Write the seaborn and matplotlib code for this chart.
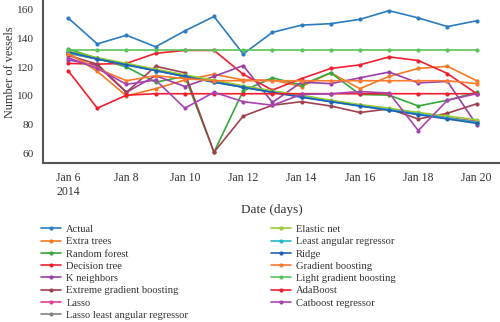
import numpy as np
import pandas as pd
import matplotlib
matplotlib.use("Agg")
import matplotlib.pyplot as plt
import seaborn as sns

dates = pd.date_range("2014-01-06", "2014-01-20", freq="D")

actual = [154, 136, 142, 134, 145, 155, 129, 144, 149, 150, 153, 159, 154, 148, 152]
extra_trees = [130, 117, 100, 105, 111, 115, 111, 111, 106.5, 116, 105, 113.5, 119, 120.5, 110.5]
random_forest = [132.5, 126, 120, 109.5, 113.5, 61, 103.5, 112.5, 107.5, 116, 101, 100.5, 93, 97, 102.5]
decision_tree = [122.5, 122, 122.5, 129.5, 131.5, 131.5, 115, 104, 112, 119, 121.5, 127, 124.5, 115.5, 101.5]
k_neighbors = [125, 121, 102.5, 114, 106.5, 113.5, 121, 95.5, 109.5, 108.5, 112.5, 116.5, 109, 110, 80]
extreme_gb = [128, 122, 102.5, 120.5, 116, 61, 86, 93.5, 96, 93, 88.5, 91, 84, 88, 94.5]
lasso = [130, 126, 122, 118, 114, 110, 106.5, 103, 100, 96.5, 93.5, 91, 88, 85, 82.5]
lasso_lar = [129.5, 125.5, 121.5, 117.5, 113.5, 110, 106, 102.5, 99.5, 96.5, 93.5, 90.5, 87.5, 84.5, 82]
elastic_net = [131, 126.5, 122.5, 118.5, 114.5, 111, 107, 103.5, 100.5, 97, 94, 91.5, 88.5, 86, 83.5]
lar = [130, 125.5, 121.5, 117.5, 113.5, 109.5, 106, 102.5, 99.5, 96, 93, 90.5, 87.5, 84.5, 81.5]
ridge = [130.5, 125.5, 121.5, 117.5, 113.5, 109.5, 106, 102.5, 99, 96, 93, 90, 87, 84, 81]
gradient_boosting = [129, 119, 110.5, 114, 112, 110.5, 110.5, 110.5, 110.5, 110.5, 110.5, 110.5, 110.5, 110.5, 108.5]
light_gb = [131.5, 131.5, 131.5, 131.5, 131.5, 131.5, 131.5, 131.5, 131.5, 131.5, 131.5, 131.5, 131.5, 131.5, 131.5]
adaboost = [117.5, 91.5, 100.5, 101.5, 101.5, 101.5, 101.5, 101.5, 101.5, 101.5, 101.5, 101.5, 101.5, 101.5, 101.5]
catboost = [126.5, 119, 108, 111, 91.5, 102.5, 96, 93.5, 101, 101.5, 103, 102, 76, 97, 101.5]

models = ["Actual", "Extra trees", "Random forest", "Decision tree", "K neighbors",
          "Extreme gradient boosting", "Lasso", "Lasso least angular regressor",
          "Elastic net", "Least angular regressor", "Ridge", "Gradient boosting",
          "Light gradient boosting", "AdaBoost", "Catboost regressor"]
series = [actual, extra_trees, random_forest, decision_tree, k_neighbors, extreme_gb,
          lasso, lasso_lar, elastic_net, lar, ridge, gradient_boosting, light_gb,
          adaboost, catboost]
colors = ["#2a7bc0", "#f57a22", "#34a83a", "#ee2030", "#9a3fa8", "#a0404e",
          "#e0409e", "#848484", "#98cc34", "#22b8c8", "#2060b4", "#ff7a30",
          "#5cc25c", "#f21c30", "#a844b0"]

xtick_labels = ["Jan 6\n2014", "Jan 8", "Jan 10", "Jan 12", "Jan 14", "Jan 16", "Jan 18", "Jan 20"]
ytick_values = [60, 80, 100, 120, 140, 160]

frames = [pd.DataFrame({"Date": dates, "value": s, "model": m}) for m, s in zip(models, series)]
df = pd.concat(frames, ignore_index=True)

sns.set_style("white")
plt.rcParams["font.family"] = ["Liberation Serif", "DejaVu Serif"]

fig = plt.figure(figsize=(5.0, 3.22), dpi=100)
ax = fig.add_axes([0.086, 0.495, 0.914, 0.505])

sns.lineplot(data=df, x="Date", y="value", hue="model", hue_order=models,
             palette=dict(zip(models, colors)), marker="o", markersize=3,
             markeredgewidth=0, linewidth=1.2, ax=ax, legend=True)

handles, labels = ax.get_legend_handles_labels()
ax.get_legend().remove()

ax.set_ylim(53.8, 166.4)
ax.set_xlim(dates[0] - pd.Timedelta(days=0.86), dates[-1] + pd.Timedelta(days=0.8))
ax.set_yticks(ytick_values)
ax.set_xticks(dates[::2])
ax.set_xticklabels(xtick_labels)

for sp in ["top", "right"]:
    ax.spines[sp].set_visible(False)
for sp in ["left", "bottom"]:
    ax.spines[sp].set_color("#555555")
    ax.spines[sp].set_linewidth(1.5)
ax.tick_params(axis="both", direction="out", length=4, width=1.2, color="#555555",
               labelcolor="#333333", pad=3)
ax.tick_params(axis="x", labelsize=8.5)
ax.tick_params(axis="y", labelsize=8.2)

ax.set_xlabel("Date (days)", fontsize=9.5, color="#333333", labelpad=4)
ax.set_ylabel("Number of vessels", fontsize=8.8, color="#333333")
ax.yaxis.set_label_coords(-0.058, 0.555)

fig.legend(handles, labels, ncol=2, loc="upper left", bbox_to_anchor=(0.082, 0.302),
           frameon=False, fontsize=7.6, handlelength=1.9, handletextpad=0.5,
           labelspacing=0.27, columnspacing=7.8, borderpad=0, borderaxespad=0,
           labelcolor="#333333")

fig.savefig("out.png", dpi=100)
